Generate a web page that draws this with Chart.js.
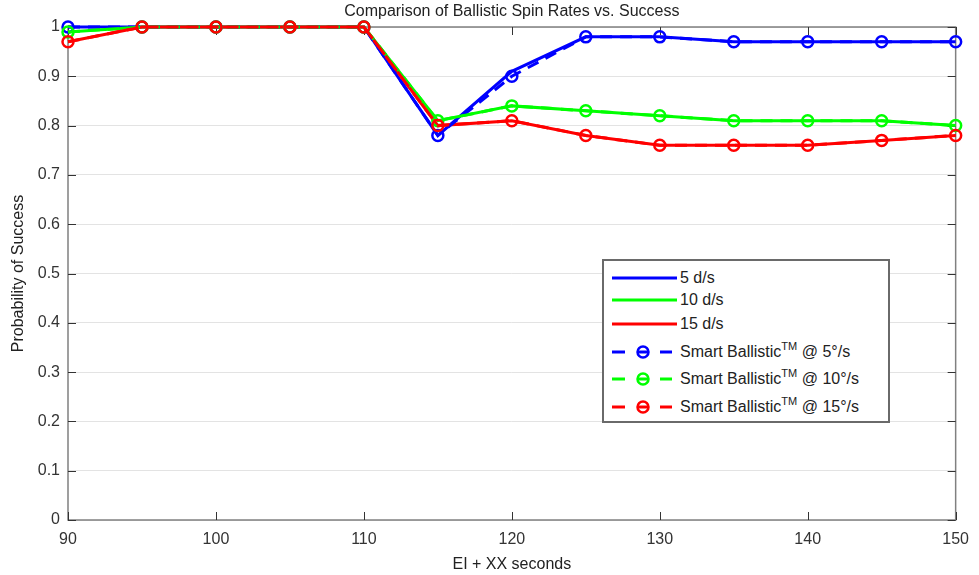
<!DOCTYPE html>
<html>
<head>
<meta charset="utf-8">
<script src="https://cdn.jsdelivr.net/npm/chart.js@4.4.0/dist/chart.umd.min.js"></script>
<style>
  html, body { margin: 0; padding: 0; background: #fff; }
  #wrap { position: relative; width: 979px; height: 575px; }
  #c { position: absolute; left: 0; top: 0; }
  #legend { position: absolute; left: 602px; top: 259px; width: 284px; height: 160px;
    border: 2px solid #6a6a6a; background: #fff; box-sizing: content-box; }
  .row { position: absolute; left: 0; height: 20px; font: 16px "Liberation Sans", Arial, sans-serif; color: #222; white-space: nowrap; }
  .row svg { position: absolute; left: 0; top: 0; }
  .row span { position: absolute; left: 76px; top: 0; line-height: 20px; }
  .row sup { font-size: 11px; vertical-align: 7px; line-height: 0; }
</style>
</head>
<body>
<div id="wrap">
  <canvas id="c" width="979" height="575"></canvas>
  <div id="legend"></div>
</div>
<script>
// ---- data ----
const xValues = [90, 95, 100, 105, 110, 115, 120, 125, 130, 135, 140, 145, 150];
const xTickLabels = ['90', '100', '110', '120', '130', '140', '150'];
const yTickLabels = ['0', '0.1', '0.2', '0.3', '0.4', '0.5', '0.6', '0.7', '0.8', '0.9', '1'];

const rate5  = [1.00, 1.00, 1.00, 1.00, 1.00, 0.78, 0.91, 0.98, 0.98, 0.97, 0.97, 0.97, 0.97];
const rate10 = [0.99, 1.00, 1.00, 1.00, 1.00, 0.81, 0.84, 0.83, 0.82, 0.81, 0.81, 0.81, 0.80];
const rate15 = [0.97, 1.00, 1.00, 1.00, 1.00, 0.80, 0.81, 0.78, 0.76, 0.76, 0.76, 0.77, 0.78];
const smart5  = [1.00, 1.00, 1.00, 1.00, 1.00, 0.78, 0.90, 0.98, 0.98, 0.97, 0.97, 0.97, 0.97];
const smart10 = [0.99, 1.00, 1.00, 1.00, 1.00, 0.81, 0.84, 0.83, 0.82, 0.81, 0.81, 0.81, 0.80];
const smart15 = [0.97, 1.00, 1.00, 1.00, 1.00, 0.80, 0.81, 0.78, 0.76, 0.76, 0.76, 0.77, 0.78];

const seriesLabels = ['5 d/s', '10 d/s', '15 d/s',
  'Smart Ballistic<sup>TM</sup> @ 5°/s', 'Smart Ballistic<sup>TM</sup> @ 10°/s', 'Smart Ballistic<sup>TM</sup> @ 15°/s'];
const titleText = 'Comparison of Ballistic Spin Rates vs. Success';
const xTitle = 'EI + XX seconds';
const yTitle = 'Probability of Success';

const BLUE = '#0000ff', GREEN = '#00ff00', RED = '#ff0000';
const FONT = '"Liberation Sans", Arial, sans-serif';

const toPts = arr => arr.map((v, i) => ({ x: xValues[i], y: v }));

function solid(label, arr, color, order) {
  return { label, data: toPts(arr), borderColor: color, backgroundColor: color,
    borderWidth: 3, pointRadius: 0, tension: 0, clip: false, order };
}
function dashed(label, arr, color, order) {
  return { label, data: toPts(arr), borderColor: color, backgroundColor: 'rgba(0,0,0,0)',
    borderWidth: 3, borderDash: [12, 8], pointRadius: 5.5, pointBorderWidth: 2.5,
    pointBorderColor: color, pointBackgroundColor: 'rgba(0,0,0,0)', tension: 0, clip: false, order };
}

const boxPlugin = {
  id: 'box',
  beforeDatasetsDraw(chart) {
    const { ctx, chartArea: a, scales } = chart;
    ctx.save();
    ctx.strokeStyle = '#808080';
    ctx.lineWidth = 1.5;
    ctx.strokeRect(a.left, a.top, a.right - a.left, a.bottom - a.top);
    ctx.strokeStyle = '#333';
    ctx.lineWidth = 1;
    const L = 8;
    scales.x.ticks.forEach(t => {
      const px = Math.round(scales.x.getPixelForValue(t.value)) + 0.5;
      ctx.beginPath();
      ctx.moveTo(px, a.bottom); ctx.lineTo(px, a.bottom - L);
      ctx.moveTo(px, a.top); ctx.lineTo(px, a.top + L);
      ctx.stroke();
    });
    scales.y.ticks.forEach(t => {
      const py = Math.round(scales.y.getPixelForValue(t.value)) + 0.5;
      ctx.beginPath();
      ctx.moveTo(a.left, py); ctx.lineTo(a.left + L, py);
      ctx.moveTo(a.right, py); ctx.lineTo(a.right - L, py);
      ctx.stroke();
    });
    ctx.restore();
  },
  afterDraw(chart) {
    const { ctx, chartArea: a } = chart;
    ctx.save();
    ctx.font = '16px ' + FONT;
    ctx.fillStyle = '#222';
    ctx.textAlign = 'center';
    ctx.textBaseline = 'middle';
    ctx.fillText(titleText, (a.left + a.right) / 2, 12);
    ctx.restore();
  }
};

new Chart(document.getElementById('c'), {
  type: 'line',
  data: {
    datasets: [
      solid(seriesLabels[0], rate5, BLUE, 6),
      solid(seriesLabels[1], rate10, GREEN, 5),
      solid(seriesLabels[2], rate15, RED, 4),
      dashed(seriesLabels[3], smart5, BLUE, 3),
      dashed(seriesLabels[4], smart10, GREEN, 2),
      dashed(seriesLabels[5], smart15, RED, 1)
    ]
  },
  options: {
    responsive: false,
    animation: false,
    events: [],
    layout: { padding: { top: 27, right: 18, left: 0, bottom: 0 } },
    plugins: { legend: { display: false }, title: { display: false }, tooltip: { enabled: false } },
    scales: {
      x: {
        type: 'linear', min: 90, max: 150,
        ticks: { stepSize: 10, padding: 10, color: '#333', font: { family: FONT, size: 16 },
          maxRotation: 0, autoSkip: false,
          callback: (v, i) => xTickLabels[i] },
        grid: { display: false, drawTicks: false },
        border: { display: false },
        title: { display: true, text: xTitle, color: '#222', font: { family: FONT, size: 16 },
          padding: { top: 0, bottom: 1 } },
        afterFit: s => { s.height = 55; }
      },
      y: {
        min: 0, max: 1,
        ticks: { stepSize: 0.1, padding: 8, color: '#333', font: { family: FONT, size: 16 },
          autoSkip: false, callback: (v, i) => yTickLabels[i] },
        grid: { display: true, color: '#e3e3e3', lineWidth: 1, drawTicks: false },
        border: { display: false },
        title: { display: true, text: yTitle, color: '#222', font: { family: FONT, size: 16 },
          padding: { top: 9, bottom: 0 } },
        afterFit: s => { s.width = 68; }
      }
    }
  },
  plugins: [boxPlugin]
});

// ---- legend (HTML) ----
const rowTops = [268, 290, 314, 342, 369, 397]; // page coordinates of row tops
const colors = [BLUE, GREEN, RED, BLUE, GREEN, RED];
const legend = document.getElementById('legend');
seriesLabels.forEach((lab, i) => {
  const row = document.createElement('div');
  row.className = 'row';
  row.style.top = (rowTops[i] - 261) + 'px';
  row.style.width = '284px';
  const c = colors[i];
  let svg;
  if (i < 3) {
    svg = `<svg width="76" height="20"><line x1="8" y1="10" x2="73" y2="10" stroke="${c}" stroke-width="3"/></svg>`;
  } else {
    svg = `<svg width="76" height="20">
      <line x1="8" y1="10" x2="21" y2="10" stroke="${c}" stroke-width="3"/>
      <line x1="33" y1="10" x2="45" y2="10" stroke="${c}" stroke-width="3"/>
      <circle cx="39" cy="10" r="5.5" fill="none" stroke="${c}" stroke-width="2.5"/>
      <line x1="56" y1="10" x2="68" y2="10" stroke="${c}" stroke-width="3"/></svg>`;
  }
  row.innerHTML = svg + `<span>${lab}</span>`;
  legend.appendChild(row);
});
</script>
</body>
</html>
